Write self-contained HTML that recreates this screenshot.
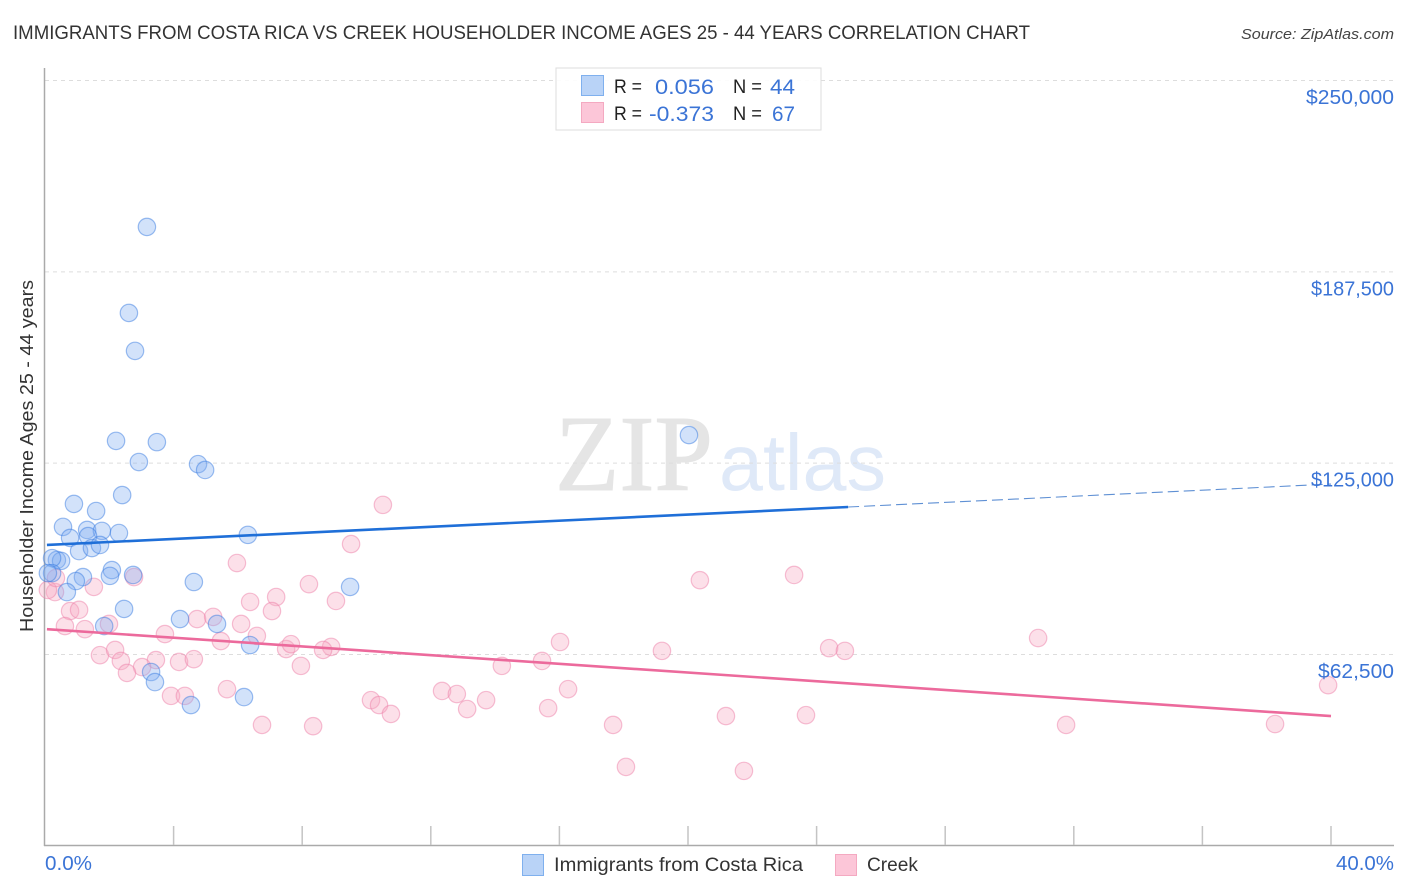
<!DOCTYPE html>
<html lang="en">
<head>
<meta charset="utf-8">
<title>Immigrants from Costa Rica vs Creek correlation chart</title>
<style>
html,body{margin:0;padding:0;background:#fff;width:1406px;height:892px;overflow:hidden}
svg{display:block;font-family:"Liberation Sans",sans-serif}
</style>
</head>
<body>
<svg id="chart" width="1406" height="892" viewBox="0 0 1406 892" xmlns="http://www.w3.org/2000/svg">
  <text x="13" y="39" font-size="19" fill="#333" textLength="1017" lengthAdjust="spacingAndGlyphs">IMMIGRANTS FROM COSTA RICA VS CREEK HOUSEHOLDER INCOME AGES 25 - 44 YEARS CORRELATION CHART</text>
  <text x="1241" y="39" font-size="15" font-style="italic" fill="#444" textLength="153" lengthAdjust="spacingAndGlyphs">Source: ZipAtlas.com</text>

  <g>
    <text x="555" y="490" font-family="'Liberation Serif',serif" font-size="108" fill="#e5e5e5" stroke="#e5e5e5" stroke-width="1" textLength="158" lengthAdjust="spacingAndGlyphs">ZIP</text>
    <text x="719" y="490" font-size="80" fill="#dfe9f8" textLength="167" lengthAdjust="spacingAndGlyphs">atlas</text>
  </g>

  <g id="grid"></g>
  <g id="axes"></g>
  <g id="points-creek"></g>
  <g id="points-costa"></g>
  <g id="trends"></g>
  <g id="labels"></g>

  <text transform="translate(33,632) rotate(-90)" font-size="18.5" fill="#333" textLength="352" lengthAdjust="spacingAndGlyphs">Householder Income Ages 25 - 44 years</text>

  <g>
    <rect x="556" y="68" width="265" height="62" fill="#fff" fill-opacity="0.9" stroke="#ddd" stroke-width="1"/>
    <rect x="581.5" y="75.5" width="22" height="20" fill="#b9d3f7" stroke="#7fb0ee"/>
    <rect x="581.5" y="102.5" width="22" height="20" fill="#fcc6d8" stroke="#f4a9c1"/>
    <text x="614" y="93" font-size="19.5" fill="#222" textLength="28" lengthAdjust="spacingAndGlyphs">R =</text>
    <text x="655" y="94" font-size="21.5" fill="#3b74d6" textLength="59" lengthAdjust="spacingAndGlyphs">0.056</text>
    <text x="733" y="93" font-size="19.5" fill="#222" textLength="29" lengthAdjust="spacingAndGlyphs">N =</text>
    <text x="770" y="94" font-size="21.5" fill="#3b74d6" textLength="25" lengthAdjust="spacingAndGlyphs">44</text>
    <text x="614" y="120" font-size="19.5" fill="#222" textLength="28" lengthAdjust="spacingAndGlyphs">R =</text>
    <text x="649" y="121" font-size="21.5" fill="#3b74d6" textLength="65" lengthAdjust="spacingAndGlyphs">-0.373</text>
    <text x="733" y="120" font-size="19.5" fill="#222" textLength="29" lengthAdjust="spacingAndGlyphs">N =</text>
    <text x="772" y="121" font-size="21.5" fill="#3b74d6" textLength="23" lengthAdjust="spacingAndGlyphs">67</text>
  </g>

  <g>
    <rect x="522.5" y="854.5" width="21" height="21" fill="#b9d3f7" stroke="#7fb0ee"/>
    <text x="554" y="871" font-size="19.5" fill="#333" textLength="249" lengthAdjust="spacingAndGlyphs">Immigrants from Costa Rica</text>
    <rect x="835.5" y="854.5" width="21" height="21" fill="#fcc6d8" stroke="#f4a9c1"/>
    <text x="867" y="871" font-size="19.5" fill="#333" textLength="51" lengthAdjust="spacingAndGlyphs">Creek</text>
  </g>
</svg>

<script>
// X values: share of Costa Rican immigrants (%); Y values: household income ($ thousands)
var costaRicaX = [3.17,2.61,2.80,2.21,3.48,2.92,4.76,4.98,20.03,2.40,0.90,1.59,0.56,1.31,1.77,2.30,6.31,0.78,1.34,1.06,1.46,1.71,0.37,0.50,0.22,0.22,2.08,2.02,2.74,1.18,0.96,4.63,0.68,2.46,4.20,1.84,5.35,6.38,3.30,3.42,6.19,4.54,9.49,0.09];
var costaRicaY = [202.0,173.9,161.5,132.1,131.7,125.2,124.5,122.6,134.0,114.4,111.5,109.2,104.0,103.0,102.7,102.0,101.4,100.4,101.0,96.1,97.1,98.1,93.2,92.9,93.8,88.9,89.9,88.0,88.3,87.6,86.3,86.0,82.7,77.2,73.9,71.6,72.3,65.4,56.6,53.3,48.4,45.8,84.4,88.9];
var creekX = [5.97,2.77,1.52,0.31,0.09,7.19,6.38,7.06,0.78,1.06,4.73,5.23,0.62,1.24,1.99,6.10,3.73,5.47,6.59,7.50,7.65,1.71,2.18,2.36,3.45,3.02,2.55,4.17,4.63,3.92,4.35,5.66,6.75,7.96,0.34,10.51,9.52,8.21,9.05,20.37,23.30,16.02,19.19,24.39,24.88,30.89,39.91,14.21,15.46,8.90,8.65,16.27,12.35,12.81,13.72,10.14,10.39,10.76,13.13,15.65,17.67,21.18,23.67,31.76,38.26,8.34,18.07,21.74];
var creekY = [92.2,87.6,84.4,82.7,83.4,81.1,79.5,76.5,76.5,76.9,73.9,74.6,71.6,70.6,72.3,72.3,69.0,66.7,68.4,64.1,65.7,62.1,63.8,60.2,60.5,58.2,56.3,59.9,60.8,48.8,48.8,51.0,39.3,58.6,87.3,111.2,98.4,85.3,79.8,86.6,88.3,66.4,63.5,64.4,63.5,67.7,52.3,58.6,60.2,64.8,63.8,51.0,50.4,49.4,47.4,47.4,45.8,42.9,44.5,44.8,39.3,42.2,42.5,39.3,39.6,38.9,25.6,24.3];
var costaTrendX = [0.06,24.98,40];
var costaTrendY = [98.1,110.5,118.0];
var creekTrendX = [0.06,40];
var creekTrendY = [70.6,42.2];
var yTicks = [250,187.5,125,62.5];
var yTickLabels = ["$250,000","$187,500","$125,000","$62,500"];
var xTicks = [0,4,8,12,16,20,24,28,32,36,40];
var xEndLabels = ["0.0%","40.0%"];

var NS = "http://www.w3.org/2000/svg";
function xPos(v){ return 45 + v * 32.15; }
function yPos(v){ return 80 + (250 - v) * 3.061; }
function make(tag, parentId){
  var el = document.createElementNS(NS, tag);
  document.getElementById(parentId).appendChild(el);
  return el;
}
// The reference face sets "1" narrower and round digits wider than Liberation Sans.
function labelWidth(text){
  var w = 0;
  for (var i = 0; i < text.length; i++) {
    var ch = text.charAt(i);
    w += ch === "$" ? 11 : ch === "," ? 5 : ch === "1" ? 7 : ch === "." ? 5 : ch === "%" ? 17 : 12;
  }
  return w;
}

yTicks.forEach(function(t, i){
  var g = make("line", "grid");
  
  
  g.setAttribute("x1", 45);
  g.setAttribute("x2", 1394);
  g.setAttribute("y1", yPos(t) + 0.5);
  g.setAttribute("y2", yPos(t) + 0.5);
  g.setAttribute("stroke", "#dddddd");
  g.setAttribute("stroke-width", "1");
  g.setAttribute("stroke-dasharray", "4 4");

  var lab = make("text", "labels");
  
  
  lab.setAttribute("x", 1394 - labelWidth(yTickLabels[i]));
  lab.setAttribute("y", yPos(t) + 24);
  lab.setAttribute("font-size", "20");
  lab.setAttribute("fill", "#3b74d6");
  lab.setAttribute("textLength", labelWidth(yTickLabels[i]));
  lab.setAttribute("lengthAdjust", "spacingAndGlyphs");
  lab.textContent = yTickLabels[i];
});

var axisLeft = make("line", "axes");


axisLeft.setAttribute("x1", 44.5);
axisLeft.setAttribute("x2", 44.5);
axisLeft.setAttribute("y1", 68);
axisLeft.setAttribute("y2", 846);
axisLeft.setAttribute("stroke", "#aaaaaa");
axisLeft.setAttribute("stroke-width", "1.5");

var axisBottom = make("line", "axes");


axisBottom.setAttribute("x1", 44);
axisBottom.setAttribute("x2", 1394);
axisBottom.setAttribute("y1", 845.5);
axisBottom.setAttribute("y2", 845.5);
axisBottom.setAttribute("stroke", "#aaaaaa");
axisBottom.setAttribute("stroke-width", "1.5");

xTicks.forEach(function(t){
  if (t === 0) return;
  var tk = make("line", "axes");
  
  
  tk.setAttribute("x1", xPos(t));
  tk.setAttribute("x2", xPos(t));
  tk.setAttribute("y1", 826);
  tk.setAttribute("y2", 845);
  tk.setAttribute("stroke", "#c4c4c4");
  tk.setAttribute("stroke-width", "1.5");
});

var xLabelLeft = make("text", "labels");


xLabelLeft.setAttribute("x", 45);
xLabelLeft.setAttribute("y", 870);
xLabelLeft.setAttribute("font-size", "20");
xLabelLeft.setAttribute("fill", "#3b74d6");
xLabelLeft.setAttribute("textLength", "47");
xLabelLeft.setAttribute("lengthAdjust", "spacingAndGlyphs");
xLabelLeft.textContent = xEndLabels[0];

var xLabelRight = make("text", "labels");


xLabelRight.setAttribute("x", 1336);
xLabelRight.setAttribute("y", 870);
xLabelRight.setAttribute("font-size", "20");
xLabelRight.setAttribute("fill", "#3b74d6");
xLabelRight.setAttribute("textLength", "58");
xLabelRight.setAttribute("lengthAdjust", "spacingAndGlyphs");
xLabelRight.textContent = xEndLabels[1];

creekX.forEach(function(v, i){
  var c = make("circle", "points-creek");
  
  
  c.setAttribute("cx", xPos(v));
  c.setAttribute("cy", yPos(creekY[i]));
  c.setAttribute("r", 8.7);
  c.setAttribute("fill", "rgba(248,170,195,0.36)");
  c.setAttribute("stroke", "rgba(238,130,170,0.5)");
  c.setAttribute("stroke-width", "1.2");
});

costaRicaX.forEach(function(v, i){
  var c = make("circle", "points-costa");
  
  
  c.setAttribute("cx", xPos(v));
  c.setAttribute("cy", yPos(costaRicaY[i]));
  c.setAttribute("r", 8.7);
  c.setAttribute("fill", "rgba(130,175,240,0.36)");
  c.setAttribute("stroke", "rgba(60,125,225,0.5)");
  c.setAttribute("stroke-width", "1.2");
});

var costaSolid = make("line", "trends");


costaSolid.setAttribute("x1", xPos(costaTrendX[0]));
costaSolid.setAttribute("y1", yPos(costaTrendY[0]));
costaSolid.setAttribute("x2", xPos(costaTrendX[1]));
costaSolid.setAttribute("y2", yPos(costaTrendY[1]));
costaSolid.setAttribute("stroke", "#1f6fd8");
costaSolid.setAttribute("stroke-width", "2.6");

var costaDash = make("line", "trends");


costaDash.setAttribute("x1", xPos(costaTrendX[1]));
costaDash.setAttribute("y1", yPos(costaTrendY[1]));
costaDash.setAttribute("x2", xPos(costaTrendX[2]));
costaDash.setAttribute("y2", yPos(costaTrendY[2]));
costaDash.setAttribute("stroke", "#5f90d4");
costaDash.setAttribute("stroke-width", "1.1");
costaDash.setAttribute("stroke-dasharray", "11 5");

var creekLine = make("line", "trends");


creekLine.setAttribute("x1", xPos(creekTrendX[0]));
creekLine.setAttribute("y1", yPos(creekTrendY[0]));
creekLine.setAttribute("x2", xPos(creekTrendX[1]));
creekLine.setAttribute("y2", yPos(creekTrendY[1]));
creekLine.setAttribute("stroke", "#ec6a9c");
creekLine.setAttribute("stroke-width", "2.6");
</script>
</body>
</html>
